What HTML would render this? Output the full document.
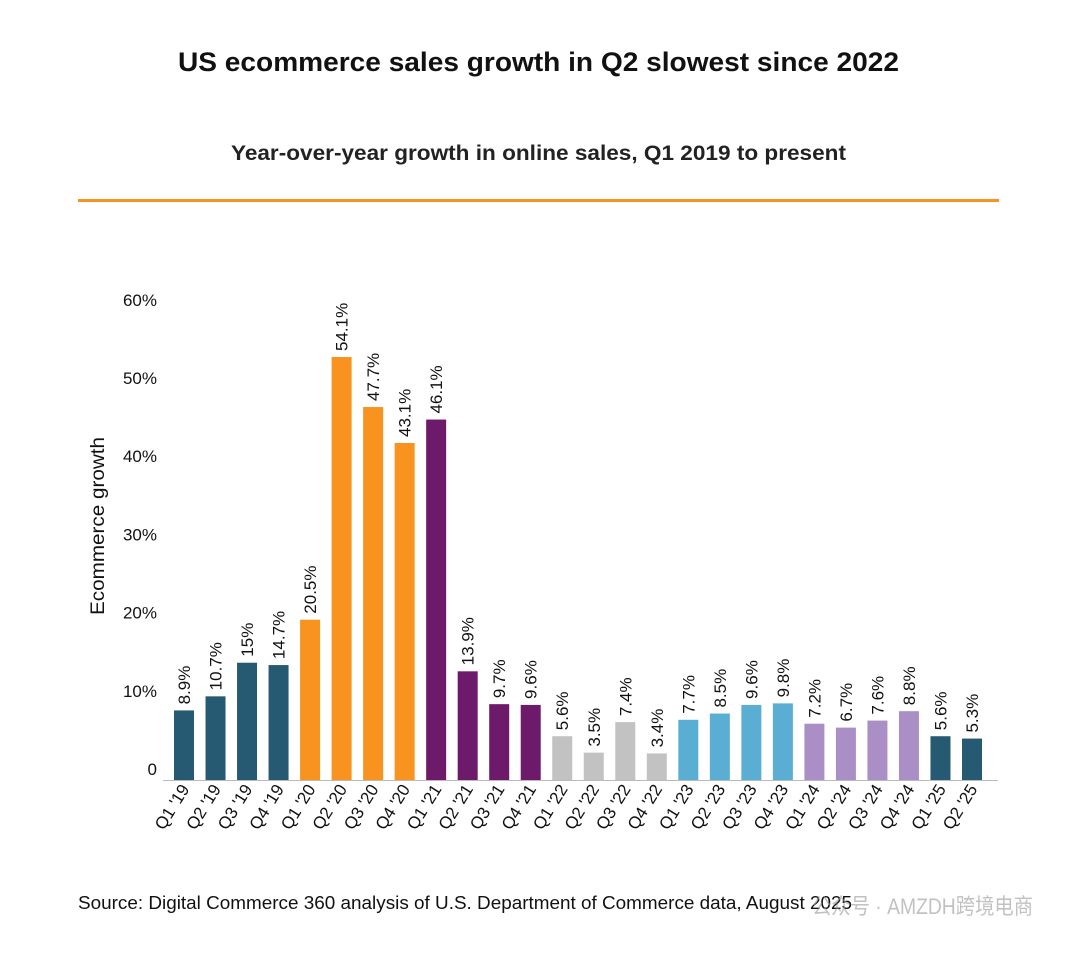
<!DOCTYPE html>
<html><head><meta charset="utf-8">
<style>
html,body{margin:0;padding:0;background:#fff;}
body{width:1068px;height:949px;position:relative;overflow:hidden;font-family:"Liberation Sans","Noto Sans CJK SC",sans-serif;color:#111;}
</style></head>
<body>
<svg id="chart" width="1068" height="949" xmlns="http://www.w3.org/2000/svg" font-family="Liberation Sans, Noto Sans CJK SC, sans-serif">
<text x="178" y="71" textLength="721" lengthAdjust="spacingAndGlyphs" font-size="27" font-weight="bold" fill="#111">US ecommerce sales growth in Q2 slowest since 2022</text>
<text x="231" y="160" textLength="615" lengthAdjust="spacingAndGlyphs" font-size="21" font-weight="bold" fill="#222">Year-over-year growth in online sales, Q1 2019 to present</text>
<rect x="78" y="199" width="921" height="3" fill="#f7931e"/>
<text transform="translate(104,615) rotate(-90)" textLength="178" lengthAdjust="spacingAndGlyphs" font-size="19" fill="#111">Ecommerce growth</text>
<g id="yticks"></g>
<g id="bars"></g>
<line x1="163" y1="780.5" x2="998" y2="780.5" stroke="#bbb" stroke-width="1"/>
<g id="xlabels"></g>
<text x="78" y="909" textLength="774" lengthAdjust="spacingAndGlyphs" font-size="18" fill="#111">Source: Digital Commerce 360 analysis of U.S. Department of Commerce data, August 2025</text>
<text x="812" y="914" textLength="221" lengthAdjust="spacingAndGlyphs" font-size="22" fill="#999" opacity="0.6">公众号 · AMZDH跨境电商</text>
</svg>
<script>
const categories=["Q1 '19","Q2 '19","Q3 '19","Q4 '19","Q1 '20","Q2 '20","Q3 '20","Q4 '20","Q1 '21","Q2 '21","Q3 '21","Q4 '21","Q1 '22","Q2 '22","Q3 '22","Q4 '22","Q1 '23","Q2 '23","Q3 '23","Q4 '23","Q1 '24","Q2 '24","Q3 '24","Q4 '24","Q1 '25","Q2 '25"];
const values=[8.9,10.7,15,14.7,20.5,54.1,47.7,43.1,46.1,13.9,9.7,9.6,5.6,3.5,7.4,3.4,7.7,8.5,9.6,9.8,7.2,6.7,7.6,8.8,5.6,5.3];
const valueLabels=["8.9%","10.7%","15%","14.7%","20.5%","54.1%","47.7%","43.1%","46.1%","13.9%","9.7%","9.6%","5.6%","3.5%","7.4%","3.4%","7.7%","8.5%","9.6%","9.8%","7.2%","6.7%","7.6%","8.8%","5.6%","5.3%"];
const groupColors=["#265a73","#265a73","#265a73","#265a73","#f7931e","#f7931e","#f7931e","#f7931e","#6d1a6a","#6d1a6a","#6d1a6a","#6d1a6a","#c2c2c2","#c2c2c2","#c2c2c2","#c2c2c2","#5aaed3","#5aaed3","#5aaed3","#5aaed3","#a98fc6","#a98fc6","#a98fc6","#a98fc6","#265a73","#265a73"];
const yTicks=[0,10,20,30,40,50,60];
const yTickLabels=["0","10%","20%","30%","40%","50%","60%"];
const NS="http://www.w3.org/2000/svg";
function y(v){return 780-v*(423/54.1);}
function x(i){return 174+i*(788/25);}
const bw=20;
const yg=document.getElementById('yticks');
yTicks.forEach((t,i)=>{
  const el=document.createElementNS(NS,'text');
  
  
  el.setAttribute('x',157);el.setAttribute('y',y(t)-5);
  el.setAttribute('text-anchor','end');el.setAttribute('font-size','17');el.setAttribute('fill','#111');
  el.textContent=yTickLabels[i];yg.appendChild(el);
});
const bg=document.getElementById('bars');
const xg=document.getElementById('xlabels');
values.forEach((v,i)=>{
  const r=document.createElementNS(NS,'rect');
  
  
  r.setAttribute('x',x(i));r.setAttribute('y',y(v));r.setAttribute('width',bw);r.setAttribute('height',780-y(v));
  r.setAttribute('fill',groupColors[i]);bg.appendChild(r);
  const cx=x(i)+bw/2;
  const t=document.createElementNS(NS,'text');
  
  
  t.setAttribute('transform','translate('+(cx+6)+','+(y(v)-6)+') rotate(-90)');
  t.setAttribute('font-size','17');t.setAttribute('fill','#111');
  t.textContent=valueLabels[i];bg.appendChild(t);
  const l=document.createElementNS(NS,'text');
  
  
  l.setAttribute('transform','translate('+(cx+6)+',789) rotate(-58)');
  l.setAttribute('text-anchor','end');l.setAttribute('font-size','17');l.setAttribute('fill','#111');
  l.textContent=categories[i];xg.appendChild(l);
});
</script>
</body></html>
